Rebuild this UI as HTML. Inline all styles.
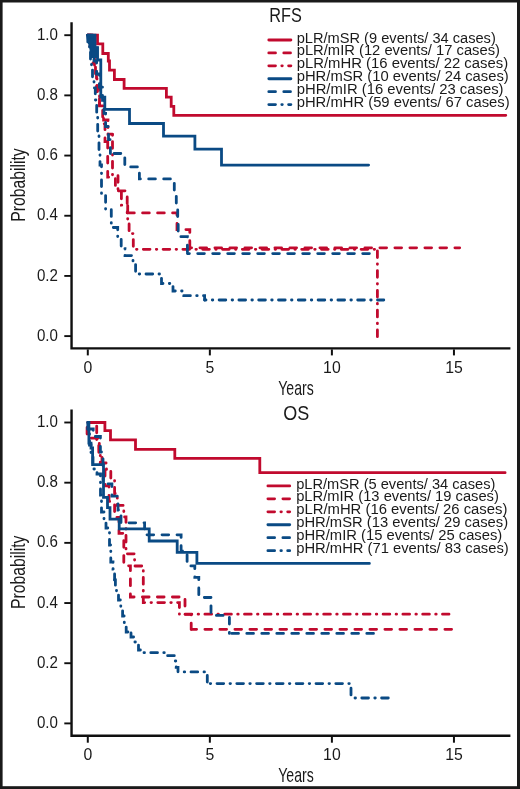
<!DOCTYPE html>
<html><head><meta charset="utf-8"><style>
html,body{margin:0;padding:0;background:#fff;}
svg{display:block;}
text{font-family:"Liberation Sans",sans-serif;fill:#1a1a1a;}
.t{filter:grayscale(1);}
</style></head><body>
<svg width="520" height="789" viewBox="0 0 520 789">
<rect width="520" height="789" fill="#fff"/>
<path d="M71.55 22.30 V348.40 H510.4" fill="none" stroke="#0f0f0f" stroke-width="2.4" stroke-linejoin="miter"/>
<line x1="64.3" y1="336.10" x2="71" y2="336.10" stroke="#0f0f0f" stroke-width="1.9"/>
<line x1="64.3" y1="275.92" x2="71" y2="275.92" stroke="#0f0f0f" stroke-width="1.9"/>
<line x1="64.3" y1="215.74" x2="71" y2="215.74" stroke="#0f0f0f" stroke-width="1.9"/>
<line x1="64.3" y1="155.56" x2="71" y2="155.56" stroke="#0f0f0f" stroke-width="1.9"/>
<line x1="64.3" y1="95.38" x2="71" y2="95.38" stroke="#0f0f0f" stroke-width="1.9"/>
<line x1="64.3" y1="35.20" x2="71" y2="35.20" stroke="#0f0f0f" stroke-width="1.9"/>
<line x1="87.80" y1="349.40" x2="87.80" y2="355.40" stroke="#0f0f0f" stroke-width="2"/>
<line x1="209.85" y1="349.40" x2="209.85" y2="355.40" stroke="#0f0f0f" stroke-width="2"/>
<line x1="331.90" y1="349.40" x2="331.90" y2="355.40" stroke="#0f0f0f" stroke-width="2"/>
<line x1="453.95" y1="349.40" x2="453.95" y2="355.40" stroke="#0f0f0f" stroke-width="2"/>
<path d="M87.80 35.20 H90.00 V49.00 H93.00 V63.20 H95.50 V77.40 H97.00 V91.60 H99.50 V105.80 H103.60 V120.00 H108.00 V134.20 H112.50" fill="none" stroke="#c10a2e" stroke-width="2.8" stroke-linecap="round" stroke-linejoin="miter" stroke-dasharray="6.7 6.3 0.5 6.3" stroke-dashoffset="0.00"/>
<path d="M112.50 134.20 V175.00 H118.00 V190.00 H121.40 V205.20 H127.70 V219.40 H129.10 V233.60 H133.30 V249.30" fill="none" stroke="#c10a2e" stroke-width="2.8" stroke-linecap="round" stroke-linejoin="miter" stroke-dasharray="6.7 6.3 0.5 6.3" stroke-dashoffset="12.45"/>
<path d="M133.30 249.30 H377.40" fill="none" stroke="#c10a2e" stroke-width="2.8" stroke-linecap="round" stroke-linejoin="miter" stroke-dasharray="6.7 6.3 0.5 6.3" stroke-dashoffset="9.80"/>
<path d="M377.40 249.30 V336.80" fill="none" stroke="#c10a2e" stroke-width="2.8" stroke-linecap="round" stroke-linejoin="miter" stroke-dasharray="6.7 6.3 0.5 6.3" stroke-dashoffset="18.30"/>
<path d="M87.80 35.20 H91.50 V52.60 H94.50 V70.40 H96.50 V88.20 H99.50 V106.00 H102.70 V123.80 H105.00 V141.60 H107.70" fill="none" stroke="#c10a2e" stroke-width="2.8" stroke-linecap="round" stroke-linejoin="miter" stroke-dasharray="6.7 8.3" stroke-dashoffset="0.00"/>
<path d="M107.70 141.60 V177.20 H115.40 V190.80 H127.20 V212.90" fill="none" stroke="#c10a2e" stroke-width="2.8" stroke-linecap="round" stroke-linejoin="miter" stroke-dasharray="6.7 8.3" stroke-dashoffset="0.20"/>
<path d="M127.20 212.90 H177.00 V229.60 H189.80 V247.80" fill="none" stroke="#c10a2e" stroke-width="2.8" stroke-linecap="round" stroke-linejoin="miter" stroke-dasharray="6.7 8.3" stroke-dashoffset="14.60"/>
<path d="M189.80 247.80 H459.70" fill="none" stroke="#c10a2e" stroke-width="2.8" stroke-linecap="round" stroke-linejoin="miter" stroke-dasharray="6.7 8.3" stroke-dashoffset="4.90"/>
<path d="M87.80 35.20 H97.50 V43.80 H102.80 V53.50 H108.30 V61.00 H109.50 V70.20 H114.40 V79.50 H124.10 V88.30 H166.40 V97.10 H171.20 V106.30 H173.80 V115.30 H505.80" fill="none" stroke="#c10a2e" stroke-width="2.8" stroke-linecap="round" stroke-linejoin="miter"/>
<path d="M86.4 33.9 H95.6 V46.4 H98.6 V58 H90.2 L89.3 47 L87.3 42 L86.4 37 Z" fill="#0a4a84"/>
<path d="M87.80 35.20 V42.00 H89.50 V52.00 H90.50 V60.00 H91.50 V67.00 H92.50 V78.00 H94.00 V88.00 H95.30 V100.00 H96.70 V115.00 H97.70 V135.00 H99.00 V150.00 H100.00 V165.00 H101.50 V193.50 H105.60 V209.50 H111.30 V227.50 H117.70 V237.00 H121.20 V248.70 H125.00 V255.60 H133.00 V262.00 H135.60 V274.00 H161.50 V283.50 H173.00 V291.00 H183.80 V295.70 H204.60 V300.00" fill="none" stroke="#0a4a84" stroke-width="2.8" stroke-linecap="round" stroke-linejoin="miter" stroke-dasharray="6.7 6.3 0.5 6.3" stroke-dashoffset="0.00"/>
<path d="M204.60 300.00 H383.80" fill="none" stroke="#0a4a84" stroke-width="2.8" stroke-linecap="round" stroke-linejoin="miter" stroke-dasharray="6.7 6.3 0.5 6.3" stroke-dashoffset="5.30"/>
<path d="M87.80 35.20 H92.00 V48.00 H94.00 V61.00 H96.60 V74.00 H99.40 V87.20 H102.50 V100.30 H104.00 V113.40 H105.60 V126.50 H108.50 V139.60 H110.40 V153.50" fill="none" stroke="#0a4a84" stroke-width="2.8" stroke-linecap="round" stroke-linejoin="miter" stroke-dasharray="6.7 8.3" stroke-dashoffset="0.00"/>
<path d="M110.40 153.50 H124.80 V166.90 H139.40 V178.90 H174.30 V193.00 H176.30 V208.00 H177.70 V222.00 H178.20 V236.70 H187.40 V253.60" fill="none" stroke="#0a4a84" stroke-width="2.8" stroke-linecap="round" stroke-linejoin="miter" stroke-dasharray="6.7 8.3" stroke-dashoffset="11.30"/>
<path d="M187.40 253.60 H369.70" fill="none" stroke="#0a4a84" stroke-width="2.8" stroke-linecap="round" stroke-linejoin="miter" stroke-dasharray="6.7 8.3" stroke-dashoffset="4.70"/>
<path d="M87.80 35.20 H95.00 V47.60 H97.50 V60.00 H100.80 V97.20 H104.80 V109.30 H129.50 V123.50 H163.50 V136.20 H194.90 V149.20 H221.50 V165.10 H368.60" fill="none" stroke="#0a4a84" stroke-width="2.8" stroke-linecap="round" stroke-linejoin="miter"/>
<path d="M268.80 40.00 H290.90" fill="none" stroke="#c10a2e" stroke-width="2.8" stroke-linecap="round" stroke-linejoin="miter"/>
<path d="M268.80 52.92 H290.90" fill="none" stroke="#c10a2e" stroke-width="2.8" stroke-linecap="round" stroke-linejoin="miter" stroke-dasharray="6.7 8.3" stroke-dashoffset="0.00"/>
<path d="M268.80 65.84 H290.90" fill="none" stroke="#c10a2e" stroke-width="2.8" stroke-linecap="round" stroke-linejoin="miter" stroke-dasharray="6.7 6.3 0.5 6.3" stroke-dashoffset="0.00"/>
<path d="M268.80 78.76 H290.90" fill="none" stroke="#0a4a84" stroke-width="2.8" stroke-linecap="round" stroke-linejoin="miter"/>
<path d="M268.80 91.68 H290.90" fill="none" stroke="#0a4a84" stroke-width="2.8" stroke-linecap="round" stroke-linejoin="miter" stroke-dasharray="6.7 8.3" stroke-dashoffset="0.00"/>
<path d="M268.80 104.60 H290.90" fill="none" stroke="#0a4a84" stroke-width="2.8" stroke-linecap="round" stroke-linejoin="miter" stroke-dasharray="6.7 6.3 0.5 6.3" stroke-dashoffset="0.00"/>
<path d="M71.55 409.60 V735.70 H510.4" fill="none" stroke="#0f0f0f" stroke-width="2.4" stroke-linejoin="miter"/>
<line x1="64.3" y1="723.40" x2="71" y2="723.40" stroke="#0f0f0f" stroke-width="1.9"/>
<line x1="64.3" y1="663.22" x2="71" y2="663.22" stroke="#0f0f0f" stroke-width="1.9"/>
<line x1="64.3" y1="603.04" x2="71" y2="603.04" stroke="#0f0f0f" stroke-width="1.9"/>
<line x1="64.3" y1="542.86" x2="71" y2="542.86" stroke="#0f0f0f" stroke-width="1.9"/>
<line x1="64.3" y1="482.68" x2="71" y2="482.68" stroke="#0f0f0f" stroke-width="1.9"/>
<line x1="64.3" y1="422.50" x2="71" y2="422.50" stroke="#0f0f0f" stroke-width="1.9"/>
<line x1="87.80" y1="736.70" x2="87.80" y2="742.70" stroke="#0f0f0f" stroke-width="2"/>
<line x1="209.85" y1="736.70" x2="209.85" y2="742.70" stroke="#0f0f0f" stroke-width="2"/>
<line x1="331.90" y1="736.70" x2="331.90" y2="742.70" stroke="#0f0f0f" stroke-width="2"/>
<line x1="453.95" y1="736.70" x2="453.95" y2="742.70" stroke="#0f0f0f" stroke-width="2"/>
<path d="M87.80 422.50 H96.70 V440.00 H99.30 V452.00 H100.30 V463.00 H106.50 V469.50 H110.80 V480.00 H114.60 V493.50 H117.30 V505.40 H123.80 V517.00 H126.00 V553.80 H134.60 V566.00 H143.30 V602.60 H179.40 V614.20" fill="none" stroke="#c10a2e" stroke-width="2.8" stroke-linecap="round" stroke-linejoin="miter" stroke-dasharray="6.7 6.3 0.5 6.3" stroke-dashoffset="7.30"/>
<path d="M179.40 614.20 H449.00" fill="none" stroke="#c10a2e" stroke-width="2.8" stroke-linecap="round" stroke-linejoin="miter" stroke-dasharray="6.7 6.3 0.5 6.3" stroke-dashoffset="14.10"/>
<path d="M87.80 422.50 H87.10 V438.20 H98.80 V454.10 H102.00 V469.90 H105.00 V485.80 H109.00 V501.40 H114.60 V517.50 H119.00 V533.30 H123.80 V565.80 H130.40 V597.00 H185.00 V614.30 H191.20 V629.30" fill="none" stroke="#c10a2e" stroke-width="2.8" stroke-linecap="round" stroke-linejoin="miter" stroke-dasharray="6.7 8.3" stroke-dashoffset="9.50"/>
<path d="M191.20 629.30 H455.50" fill="none" stroke="#c10a2e" stroke-width="2.8" stroke-linecap="round" stroke-linejoin="miter" stroke-dasharray="6.7 8.3" stroke-dashoffset="1.30"/>
<path d="M87.80 422.50 H104.90 V430.70 H110.50 V439.80 H135.50 V449.30 H174.80 V458.40 H259.80 V472.70 H505.10" fill="none" stroke="#c10a2e" stroke-width="2.8" stroke-linecap="round" stroke-linejoin="miter"/>
<path d="M87.80 422.50 V432.00 H89.50 V445.00 H91.00 V455.00 H93.00 V469.00 H97.00 V474.00 H100.50 V495.00 H101.50 V512.00 H104.00 V520.00 H106.00 V528.00 H109.50 V545.00 H110.80 V562.00 H113.00 V569.00 H114.60 V580.00" fill="none" stroke="#0a4a84" stroke-width="2.8" stroke-linecap="round" stroke-linejoin="miter" stroke-dasharray="6.7 6.3 0.5 6.3" stroke-dashoffset="0.00"/>
<path d="M114.60 580.00 H115.40 V586.00 H116.50 V593.00 H118.50 V600.00 H120.80 V609.00 H122.60 V616.00 H124.30 V626.00 H126.20 V632.00 H131.00" fill="none" stroke="#0a4a84" stroke-width="2.8" stroke-linecap="round" stroke-linejoin="miter" stroke-dasharray="6.7 6.3 0.5 6.3" stroke-dashoffset="0.75"/>
<path d="M131.00 632.00 V637.00 H133.60 V642.00 H138.50 V650.00 H143.00 V652.70 H166.00 V655.70 H175.00 V661.00 H176.20 V667.30 H178.00 V671.90 H207.30 V683.60" fill="none" stroke="#0a4a84" stroke-width="2.8" stroke-linecap="round" stroke-linejoin="miter" stroke-dasharray="6.7 6.3 0.5 6.3" stroke-dashoffset="18.90"/>
<path d="M207.30 683.60 H351.00 V698.00" fill="none" stroke="#0a4a84" stroke-width="2.8" stroke-linecap="round" stroke-linejoin="miter" stroke-dasharray="6.7 6.3 0.5 6.3" stroke-dashoffset="10.10"/>
<path d="M351.00 698.00 H388.30" fill="none" stroke="#0a4a84" stroke-width="2.8" stroke-linecap="round" stroke-linejoin="miter" stroke-dasharray="6.7 6.3 0.5 6.3" stroke-dashoffset="9.00"/>
<path d="M87.80 422.50 V429.00 H93.20 V436.50 H100.40 V452.00 H103.00 V483.80 H111.90 V496.20 H118.00 V510.00 H121.00 V522.80 H144.60 V534.80 H181.10 V551.00 H187.10 V565.90 H194.80 V577.30 H198.80 V597.50 H211.00 V615.40 H229.40 V633.40" fill="none" stroke="#0a4a84" stroke-width="2.8" stroke-linecap="round" stroke-linejoin="miter" stroke-dasharray="6.7 8.3" stroke-dashoffset="8.50"/>
<path d="M229.40 633.40 H374.80" fill="none" stroke="#0a4a84" stroke-width="2.8" stroke-linecap="round" stroke-linejoin="miter" stroke-dasharray="6.7 8.3" stroke-dashoffset="12.60"/>
<path d="M87.80 422.50 H88.90 V443.20 H91.00 V448.00 H92.60 V464.60 H103.50 V497.30 H107.50 V507.70 H110.00 V519.20 H119.20 V528.90 H149.20 V541.00 H177.20 V552.40 H196.90 V563.40 H369.40" fill="none" stroke="#0a4a84" stroke-width="2.8" stroke-linecap="round" stroke-linejoin="miter"/>
<path d="M267.90 485.90 H289.70" fill="none" stroke="#c10a2e" stroke-width="2.8" stroke-linecap="round" stroke-linejoin="miter"/>
<path d="M267.90 498.85 H289.70" fill="none" stroke="#c10a2e" stroke-width="2.8" stroke-linecap="round" stroke-linejoin="miter" stroke-dasharray="6.7 8.3" stroke-dashoffset="0.00"/>
<path d="M267.90 511.80 H289.70" fill="none" stroke="#c10a2e" stroke-width="2.8" stroke-linecap="round" stroke-linejoin="miter" stroke-dasharray="6.7 6.3 0.5 6.3" stroke-dashoffset="0.00"/>
<path d="M267.90 524.75 H289.70" fill="none" stroke="#0a4a84" stroke-width="2.8" stroke-linecap="round" stroke-linejoin="miter"/>
<path d="M267.90 537.70 H289.70" fill="none" stroke="#0a4a84" stroke-width="2.8" stroke-linecap="round" stroke-linejoin="miter" stroke-dasharray="6.7 8.3" stroke-dashoffset="0.00"/>
<path d="M267.90 550.65 H289.70" fill="none" stroke="#0a4a84" stroke-width="2.8" stroke-linecap="round" stroke-linejoin="miter" stroke-dasharray="6.7 6.3 0.5 6.3" stroke-dashoffset="0.00"/>
<rect x="0" y="0" width="520" height="2.5" fill="#1a1a1a"/>
<rect x="0" y="0" width="2.6" height="789" fill="#1a1a1a"/>
<rect x="517" y="0" width="3" height="789" fill="#1a1a1a"/>
<rect x="0" y="786.2" width="520" height="2.8" fill="#1a1a1a"/>
<g class="t">
<text x="57.90" y="340.70" font-size="15.6" text-anchor="end" textLength="21" lengthAdjust="spacingAndGlyphs">0.0</text>
<text x="57.90" y="280.52" font-size="15.6" text-anchor="end" textLength="21" lengthAdjust="spacingAndGlyphs">0.2</text>
<text x="57.90" y="220.34" font-size="15.6" text-anchor="end" textLength="21" lengthAdjust="spacingAndGlyphs">0.4</text>
<text x="57.90" y="160.16" font-size="15.6" text-anchor="end" textLength="21" lengthAdjust="spacingAndGlyphs">0.6</text>
<text x="57.90" y="99.98" font-size="15.6" text-anchor="end" textLength="21" lengthAdjust="spacingAndGlyphs">0.8</text>
<text x="57.90" y="39.80" font-size="15.6" text-anchor="end" textLength="21" lengthAdjust="spacingAndGlyphs">1.0</text>
<text x="87.80" y="372.60" font-size="15.8" text-anchor="middle">0</text>
<text x="209.85" y="372.60" font-size="15.8" text-anchor="middle">5</text>
<text x="331.90" y="372.60" font-size="15.8" text-anchor="middle">10</text>
<text x="453.95" y="372.60" font-size="15.8" text-anchor="middle">15</text>
<text x="296.00" y="394.70" font-size="20.4" text-anchor="middle" textLength="35.5" lengthAdjust="spacingAndGlyphs">Years</text>
<text transform="translate(24.7 185.00) rotate(-90)" text-anchor="middle" font-size="20.2" textLength="73.5" lengthAdjust="spacingAndGlyphs">Probability</text>
<text x="269.30" y="22.30" font-size="20.5" textLength="32.5" lengthAdjust="spacingAndGlyphs">RFS</text>
<text x="296.70" y="42.50" font-size="14" textLength="199.1" lengthAdjust="spacingAndGlyphs">pLR/mSR (9 events/ 34 cases)</text>
<text x="296.70" y="55.42" font-size="14" textLength="203.3" lengthAdjust="spacingAndGlyphs">pLR/mIR (12 events/ 17 cases)</text>
<text x="296.70" y="68.34" font-size="14" textLength="211.4" lengthAdjust="spacingAndGlyphs">pLR/mHR (16 events/ 22 cases)</text>
<text x="296.70" y="81.26" font-size="14" textLength="212.1" lengthAdjust="spacingAndGlyphs">pHR/mSR (10 events/ 24 cases)</text>
<text x="296.70" y="94.18" font-size="14" textLength="206.8" lengthAdjust="spacingAndGlyphs">pHR/mIR (16 events/ 23 cases)</text>
<text x="296.70" y="107.10" font-size="14" textLength="213.0" lengthAdjust="spacingAndGlyphs">pHR/mHR (59 events/ 67 cases)</text>
<text x="57.90" y="728.00" font-size="15.6" text-anchor="end" textLength="21" lengthAdjust="spacingAndGlyphs">0.0</text>
<text x="57.90" y="667.82" font-size="15.6" text-anchor="end" textLength="21" lengthAdjust="spacingAndGlyphs">0.2</text>
<text x="57.90" y="607.64" font-size="15.6" text-anchor="end" textLength="21" lengthAdjust="spacingAndGlyphs">0.4</text>
<text x="57.90" y="547.46" font-size="15.6" text-anchor="end" textLength="21" lengthAdjust="spacingAndGlyphs">0.6</text>
<text x="57.90" y="487.28" font-size="15.6" text-anchor="end" textLength="21" lengthAdjust="spacingAndGlyphs">0.8</text>
<text x="57.90" y="427.10" font-size="15.6" text-anchor="end" textLength="21" lengthAdjust="spacingAndGlyphs">1.0</text>
<text x="87.80" y="759.90" font-size="15.8" text-anchor="middle">0</text>
<text x="209.85" y="759.90" font-size="15.8" text-anchor="middle">5</text>
<text x="331.90" y="759.90" font-size="15.8" text-anchor="middle">10</text>
<text x="453.95" y="759.90" font-size="15.8" text-anchor="middle">15</text>
<text x="296.00" y="782.00" font-size="20.4" text-anchor="middle" textLength="35.5" lengthAdjust="spacingAndGlyphs">Years</text>
<text transform="translate(24.7 572.30) rotate(-90)" text-anchor="middle" font-size="20.2" textLength="73.5" lengthAdjust="spacingAndGlyphs">Probability</text>
<text x="283.30" y="419.90" font-size="20.5" textLength="26" lengthAdjust="spacingAndGlyphs">OS</text>
<text x="296.20" y="488.50" font-size="14" textLength="199.2" lengthAdjust="spacingAndGlyphs">pLR/mSR (5 events/ 34 cases)</text>
<text x="296.20" y="501.45" font-size="14" textLength="202.7" lengthAdjust="spacingAndGlyphs">pLR/mIR (13 events/ 19 cases)</text>
<text x="296.20" y="514.40" font-size="14" textLength="211.2" lengthAdjust="spacingAndGlyphs">pLR/mHR (16 events/ 26 cases)</text>
<text x="296.20" y="527.35" font-size="14" textLength="211.9" lengthAdjust="spacingAndGlyphs">pHR/mSR (13 events/ 29 cases)</text>
<text x="296.20" y="540.30" font-size="14" textLength="206.1" lengthAdjust="spacingAndGlyphs">pHR/mIR (15 events/ 25 cases)</text>
<text x="296.20" y="553.25" font-size="14" textLength="212.6" lengthAdjust="spacingAndGlyphs">pHR/mHR (71 events/ 83 cases)</text>
</g>
</svg>
</body></html>
